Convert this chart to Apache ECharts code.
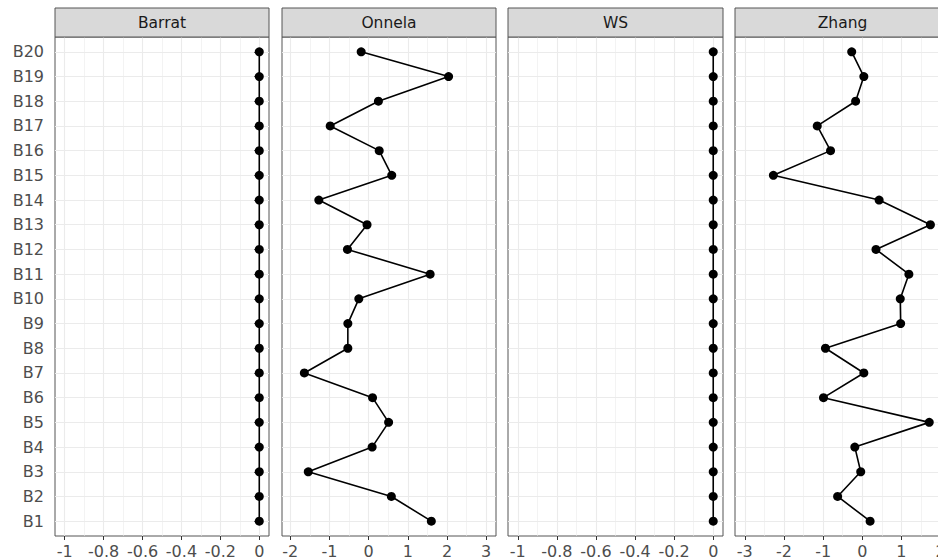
<!DOCTYPE html>
<html><head><meta charset="utf-8">
<script src="https://cdn.jsdelivr.net/npm/echarts@6/dist/echarts.min.js"></script>
<style>html,body{margin:0;padding:0;background:#fff}#c{width:938px;height:560px}</style>
</head><body><div id="c"></div>
<script>
const categories = ['B1','B2','B3','B4','B5','B6','B7','B8','B9','B10','B11','B12','B13','B14','B15','B16','B17','B18','B19','B20'];
const panelNames = ['Barrat','Onnela','WS','Zhang'];
const barrat = [0,0,0,0,0,0,0,0,0,0,0,0,0,0,0,0,0,0,0,0];
const onnela = [1.60,0.58,-1.54,0.09,0.51,0.10,-1.64,-0.53,-0.53,-0.25,1.57,-0.54,-0.04,-1.27,0.59,0.27,-0.98,0.25,2.04,-0.19];
const ws = [0,0,0,0,0,0,0,0,0,0,0,0,0,0,0,0,0,0,0,0];
const zhang = [0.20,-0.63,-0.04,-0.19,1.71,-0.99,0.04,-0.94,0.98,0.97,1.19,0.35,1.74,0.43,-2.27,-0.81,-1.15,-0.17,0.04,-0.27];
const panelValues = [barrat, onnela, ws, zhang];
const xMajorTicks = [
  [-1,-0.8,-0.6,-0.4,-0.2,0],
  [-2,-1,0,1,2,3],
  [-1,-0.8,-0.6,-0.4,-0.2,0],
  [-3,-2,-1,0,1,2]
];
const xMinorTicks = [
  [-0.9,-0.7,-0.5,-0.3,-0.1],
  [-1.5,-0.5,0.5,1.5,2.5],
  [-0.9,-0.7,-0.5,-0.3,-0.1],
  [-2.5,-1.5,-0.5,0.5,1.5]
];
const xRanges = [[-1.05,0.05],[-2.21,3.25],[-1.05,0.05],[-3.25,2.24]];
const yTickValues = categories.map((c,i)=>i+1);

// layout
const panelLeft = [55,282,508,735];
const panelWidth = [214,214,215,215];
const PANEL_TOP = 37, PANEL_H = 499, STRIP_TOP = 8, STRIP_H = 29;
const FONT = '"DejaVu Sans", "Liberation Sans", sans-serif';

const grids = [], xAxes = [], yAxes = [], series = [], graphics = [];
panelNames.forEach((name, i) => {
  grids.push({left: panelLeft[i], top: PANEL_TOP, width: panelWidth[i], height: PANEL_H,
    show: true, backgroundColor: '#fff', borderColor: '#555', borderWidth: 1,
    containLabel: false, outerBoundsMode: 'none'});
  xAxes.push({type:'value', gridIndex:i, position:'bottom', min:xRanges[i][0], max:xRanges[i][1],
    axisLine:{show:false},
    axisTick:{show:true, customValues:xMajorTicks[i], length:4, lineStyle:{color:'#333', width:1}},
    axisLabel:{show:true, customValues:xMajorTicks[i], margin:7, color:'#4d4d4d', fontSize:16, fontFamily:FONT},
    splitLine:{show:true, lineStyle:{color:'#EBEBEB', width:1.1}}
  });
  xAxes.push({type:'value', gridIndex:i, position:'bottom', min:xRanges[i][0], max:xRanges[i][1],
    axisLine:{show:false},
    axisTick:{show:false, customValues:xMinorTicks[i]},
    axisLabel:{show:false, customValues:xMinorTicks[i]},
    splitLine:{show:true, lineStyle:{color:'#EBEBEB', width:0.6}}
  });
  yAxes.push({type:'value', gridIndex:i, min:0.4, max:20.6,
    axisLine:{show:false},
    axisTick:{show:i===0, customValues:yTickValues, length:5, lineStyle:{color:'#333', width:1}},
    axisLabel:{show:i===0, customValues:yTickValues, margin:11, color:'#4d4d4d', fontSize:16, fontFamily:FONT,
      formatter: v => categories[Math.round(v)-1]},
    splitLine:{show:true, lineStyle:{color:'#EBEBEB', width:1.1}}
  });
  series.push({type:'line', xAxisIndex:2*i, yAxisIndex:i, z:5,
    data: panelValues[i].map((v,k)=>[v, k+1]),
    symbol:'circle', symbolSize:9, showSymbol:true,
    lineStyle:{color:'#000', width:1.6}, itemStyle:{color:'#000'},
    clip:false, animation:false, silent:true});
  graphics.push({type:'rect', z:10,
    shape:{x:panelLeft[i], y:STRIP_TOP, width:panelWidth[i], height:STRIP_H},
    style:{fill:'#D9D9D9', stroke:'#555', lineWidth:1}});
  graphics.push({type:'text', z:11,
    style:{text:name, x:panelLeft[i]+panelWidth[i]/2, y:STRIP_TOP+STRIP_H/2, align:'center', verticalAlign:'middle',
      fontSize:15.5, fontFamily:FONT, fill:'#1a1a1a'}});
});

const chart = echarts.init(document.getElementById('c'), null, {renderer:'svg'});
chart.setOption({animation:false, backgroundColor:'#fff', grid:grids, xAxis:xAxes, yAxis:yAxes, series:series, graphic:graphics});
</script></body></html>
